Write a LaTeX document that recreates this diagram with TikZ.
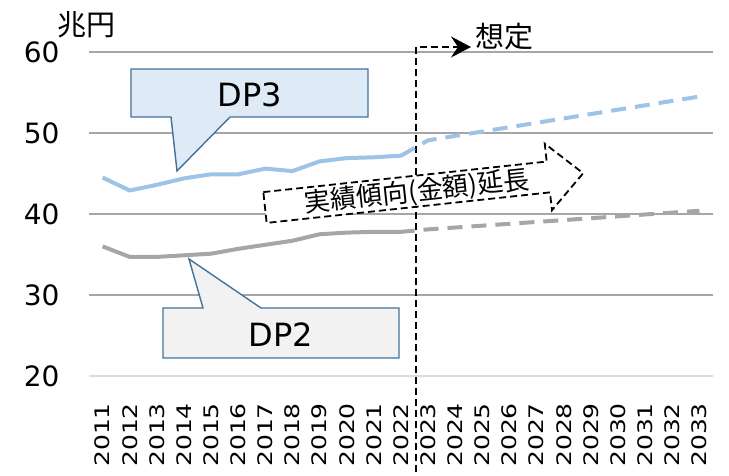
\documentclass[tikz,border=0pt]{standalone}
\usepackage{fontspec}
\setmainfont{DejaVu Sans}
\newfontfamily\jp{Noto Sans CJK JP}
\usepackage{tikz}
\usetikzlibrary{arrows.meta}

\definecolor{dpblau}{HTML}{9DC3E6}
\definecolor{dpgrau}{HTML}{A6A6A6}
\definecolor{rahmen}{HTML}{41719C}
\definecolor{hellblau}{HTML}{DEEBF7}
\definecolor{hellgrau}{HTML}{F2F2F2}
\definecolor{gitter}{HTML}{A6A6A6}

\begin{document}
\begin{tikzpicture}
		[
		x=1pt, y=1pt, >=latex,
		%Voreinstellungen
		gitterlinie/.style={gitter, line width=1.6pt},
		reihe/.style={line width=4pt, line join=round},
		prognose/.style={reihe, dash pattern=on 15pt off 9pt, dash phase=15pt},
		strich/.style={black, line width=1.8pt, dash pattern=on 7pt off 4pt},
		blase/.style={draw=rahmen, line width=1.4pt},
		wert/.style={anchor=east, font=\fontsize{28}{28}\selectfont},
		jahr/.style={rotate=90, anchor=east, inner sep=0pt, font=\fontsize{20}{20}\selectfont}
		]
		\useasboundingbox (0,0) rectangle (729,476);
		
		%Raster im Hintergrund
		\foreach \v in {30,40,50,60}
		\draw[gitterlinie] (89,{100+8.1*(\v-20)}) -- (713,{100+8.1*(\v-20)});
		\draw[gitterlinie, gitter!40] (89,100) -- (713,100);
		
		%Werte auf y-Achse
		\foreach \v in {20,30,...,60}
		\node[wert] (w\v) at (63,{100+8.1*(\v-20)}) {\v};
		\node[font=\jp\fontsize{29}{29}\selectfont] (einheit) at (86.5,451) {兆円};
		
		%Grenze zwischen Ist und Annahme
		\coordinate (unten) at (416,4);
		\coordinate (oben) at (416,429);
		\coordinate (spitze) at (471,429);
		\draw[strich, -{Stealth[length=20pt, width=21pt, inset=7pt]}] (unten) -- (oben) -- (spitze);
		\node[anchor=west, font=\jp\fontsize{29}{29}\selectfont] (annahme) at (472,439) {想定};
		
		\begin{scope}[x=27.13pt, y=8.1pt, shift={(102.6pt,100pt)}]
		%Jahre auf x-Achse
		\foreach \j [count=\i from 0] in {2011,...,2033}
		\node[jahr] (j\j) at (\i,-3.33) {\scalebox{1.25}[1]{\j}};
		
		%Reihe DP3
		\draw[reihe, dpblau] (0,24.5) -- (1,22.9) -- (2,23.6) -- (3,24.4) -- (4,24.9) -- (5,24.9) -- (6,25.6) -- (7,25.3) -- (8,26.5) -- (9,26.9) -- (10,27.0) -- (11,27.2) -- (11.5,28.15);
		\draw[prognose, dpblau] (11.5,28.15) -- (12,29.1) -- (22,34.5);
		
		%Reihe DP2
		\draw[reihe, dpgrau] (0,16.0) -- (1,14.7) -- (2,14.7) -- (3,14.9) -- (4,15.1) -- (5,15.7) -- (6,16.2) -- (7,16.7) -- (8,17.5) -- (9,17.7) -- (10,17.8) -- (11,17.8) -- (11.5,17.95);
		\draw[prognose, dpgrau] (11.5,17.95) -- (12,18.1) -- (22,20.4);
		\end{scope}
		
		%Sprechblase DP3
		\filldraw[blase, fill=hellblau] (131,407) -- (368,407) -- (368,359) -- (230,359) -- (177,305) -- (171,359) -- (131,359) -- cycle;
		\node[font=\fontsize{32}{32}\selectfont] (dpdrei) at (250,381) {DP3};
		
		%Sprechblase DP2
		\filldraw[blase, fill=hellgrau] (163,168) -- (203,168) -- (189,217) -- (261,168) -- (399,168) -- (399,118) -- (163,118) -- cycle;
		\node[font=\fontsize{32}{32}\selectfont] (dpzwei) at (281,141) {DP2};
		
		%Pfeil fuer die Fortschreibung
		\begin{scope}[shift={(265,268.5)}, rotate=6.15]
		\filldraw[strich, fill=white] (0,15.5) -- (285,15.5) -- (285,33.5) -- (320,0) -- (285,-33.5) -- (285,-15.5) -- (0,-15.5) -- cycle;
		\node[rotate=6.15, font=\jp\fontsize{26}{26}\selectfont] (trend) at (153,-1) {実績傾向(金額)延長};
		\end{scope}
		
\end{tikzpicture}
\end{document}
